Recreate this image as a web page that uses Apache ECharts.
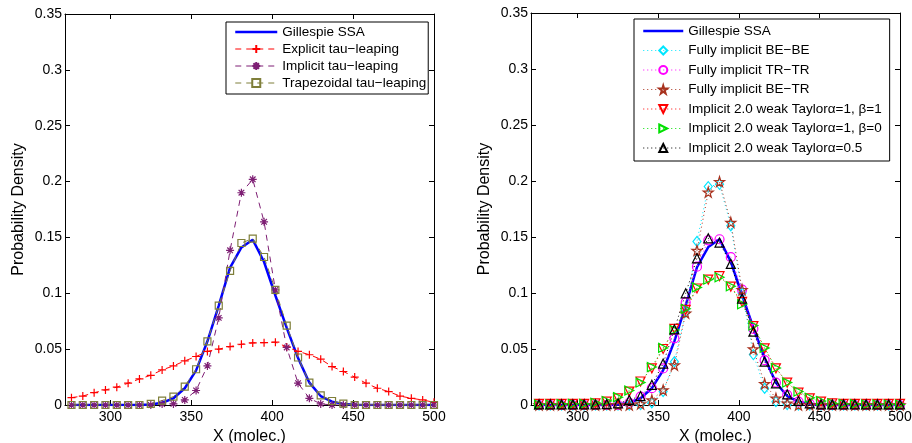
<!DOCTYPE html>
<html>
<head>
<meta charset="utf-8">
<script src="https://cdn.jsdelivr.net/npm/echarts@6/dist/echarts.min.js"></script>
<style>
  html, body { margin: 0; padding: 0; background: #fff; }
  #chart { width: 912px; height: 443px; }
</style>
</head>
<body>
<div id="chart"></div>
<script>
// x positions of the histogram bins (molecules)
const xVals = [276, 283, 290, 297, 304, 311, 318, 325, 332, 339, 346, 353, 360, 367, 374, 381, 388,
  395, 402, 409, 416, 423, 430, 437, 444, 451, 458, 465, 472, 479, 486, 493, 500]

const yTicks = [0, 0.05, 0.1, 0.15, 0.2, 0.25, 0.3, 0.35]
const xTicks = [300, 350, 400, 450, 500]

// left panel
const ssa = [0, 0, 0, 0, 0, 0, 0, 0.0005, 0.002, 0.006, 0.015, 0.031, 0.057, 0.089, 0.123, 0.141, 0.148,
  0.128, 0.098, 0.069, 0.042, 0.020, 0.008, 0.003, 0.001, 0.0003, 0, 0, 0, 0, 0, 0, 0]
const explicitTau = [0.0066, 0.008, 0.011, 0.0135, 0.016, 0.0195, 0.0233, 0.0266, 0.0314, 0.035, 0.0395, 0.0434,
  0.048, 0.050, 0.0523, 0.0544, 0.0556, 0.0558, 0.0562, 0.052, 0.048, 0.045, 0.041, 0.0344, 0.030, 0.025,
  0.0195, 0.015, 0.012, 0.008, 0.006, 0.0045, 0.0024]
const implicitTau = [0, 0, 0, 0, 0, 0, 0, 0, 0.0008, 0.001, 0.0045, 0.013, 0.035, 0.078, 0.1385, 0.19, 0.202,
  0.164, 0.103, 0.0515, 0.0195, 0.006, 0.001, 0, 0, 0, 0, 0, 0, 0, 0, 0, 0]
const trapTau = [0, 0, 0, 0, 0, 0, 0, 0.001, 0.004, 0.0075, 0.0165, 0.032, 0.057, 0.089, 0.120, 0.145, 0.149,
  0.1325, 0.103, 0.071, 0.0425, 0.020, 0.0087, 0.0036, 0.0012, 0, 0, 0, 0, 0, 0, 0, 0]

// right panel
const beBe = [0, 0, 0, 0, 0, 0, 0, 0, 0, 0.0005, 0.002, 0.012, 0.0387, 0.083, 0.146, 0.195, 0.197,
  0.16, 0.1, 0.045, 0.015, 0.003, 0.0005, 0, 0, 0, 0, 0, 0, 0, 0, 0, 0]
const trTr = [0, 0, 0, 0, 0, 0, 0, 0, 0.002, 0.0075, 0.015, 0.0327, 0.0595, 0.0917, 0.1235, 0.147, 0.148,
  0.132, 0.103, 0.068, 0.040, 0.020, 0.009, 0.003, 0.001, 0, 0, 0, 0, 0, 0, 0, 0]
const beTr = [0, 0, 0, 0, 0, 0, 0, 0, 0, 0.001, 0.0045, 0.0134, 0.0357, 0.082, 0.138, 0.19, 0.1994,
  0.163, 0.103, 0.05, 0.019, 0.006, 0.0015, 0, 0, 0, 0, 0, 0, 0, 0, 0, 0]
const taylorA1B1 = [0.001, 0.001, 0.001, 0.001, 0.001, 0.0015, 0.003, 0.006, 0.012, 0.021, 0.0327, 0.05, 0.068,
  0.085, 0.104, 0.112, 0.115, 0.1057, 0.092, 0.0705, 0.0506, 0.0327, 0.020, 0.011, 0.006, 0.003, 0.0015,
  0.001, 0.001, 0.001, 0.001, 0.001, 0.001]
const taylorA1B0 = [0.0005, 0.0005, 0.0008, 0.001, 0.001, 0.002, 0.0035, 0.007, 0.013, 0.02, 0.034, 0.051, 0.067,
  0.086, 0.105, 0.112, 0.114, 0.106, 0.09, 0.071, 0.051, 0.033, 0.02, 0.012, 0.0065, 0.0035, 0.0015,
  0.001, 0.0008, 0.0005, 0.0005, 0.0005, 0.0005]
const taylorA05 = [0.0005, 0.0005, 0.0005, 0.0005, 0.0005, 0.0005, 0.0008, 0.0015, 0.0045, 0.008, 0.018, 0.037,
  0.0675, 0.0997, 0.131, 0.1488, 0.145, 0.126, 0.095, 0.0655, 0.0387, 0.0193, 0.0095, 0.0036, 0.0015,
  0.0005, 0.0005, 0.0005, 0.0005, 0.0005, 0.0005, 0.0005, 0.0005]

const FONT = "'Liberation Sans', Arial, Helvetica, sans-serif"

// marker shapes (hollow, matlab-like)
const SYM = {
  plus: 'path://M5,0L5,10M0,5L10,5',
  aster: 'path://M5,0L5,10M0,5L10,5M1.5,1.5L8.5,8.5M1.5,8.5L8.5,1.5',
  square: 'path://M0,0L10,0L10,10L0,10Z',
  diamond: 'path://M5,0L10,6L5,12L0,6Z',
  circle: 'path://M10,5A5,5,0,1,1,0,5A5,5,0,1,1,10,5Z',
  star: 'path://M50,0L61,35L98,35L68,57L79,91L50,70L21,91L32,57L2,35L39,35Z',
  down: 'path://M0,0L10,0L5,9Z',
  right: 'path://M0,0L9,5L0,10Z',
  up: 'path://M5,0L10,9L0,9Z'
}

const DASH = [6, 5]
const DOT = [1, 3]

function pairs (ys) {
  return xVals.map((x, i) => [x, ys[i]])
}

function line (name, ys, idx, color, symbol, size, type) {
  return {
    name: name,
    type: 'line',
    xAxisIndex: idx,
    yAxisIndex: idx,
    data: pairs(ys),
    symbol: symbol ? SYM[symbol] : 'none',
    symbolSize: size,
    showSymbol: !!symbol,
    lineStyle: { color: color, width: type === 'solid' ? 2.5 : 1, type: type },
    // no marker on the ssa curve, so keep its legend symbol invisible
    itemStyle: { color: 'transparent', borderColor: symbol ? color : 'transparent', borderWidth: 1.2 },
    emphasis: { disabled: true },
    z: symbol ? 3 : 2
  }
}

function xAxes (idx, min) {
  const base = {
    gridIndex: idx,
    type: 'value',
    min: min,
    max: 500,
    splitLine: { show: false },
    axisLine: { show: true, onZero: false, lineStyle: { color: '#000', width: 1 } },
    axisTick: { show: true, inside: true, length: 5, lineStyle: { color: '#000' } }
  }
  return [
    Object.assign({}, base, {
      position: 'bottom',
      name: 'X (molec.)',
      nameLocation: 'middle',
      nameGap: 22,
      nameTextStyle: { fontSize: 16, color: '#000', fontFamily: FONT },
      axisLabel: {
        fontSize: 14, color: '#000', fontFamily: FONT, margin: 5,
        formatter: v => (xTicks.indexOf(v) >= 0 ? String(v) : '')
      }
    }),
    Object.assign({}, base, { position: 'top', axisLabel: { show: false } })
  ]
}

function yAxes (idx) {
  const base = {
    gridIndex: idx,
    type: 'value',
    min: yTicks[0],
    max: yTicks[yTicks.length - 1],
    interval: 0.05,
    splitLine: { show: false },
    axisLine: { show: true, onZero: false, lineStyle: { color: '#000', width: 1 } },
    axisTick: { show: true, inside: true, length: 5, lineStyle: { color: '#000' } }
  }
  return [
    Object.assign({}, base, {
      position: 'left',
      name: 'Probability Density',
      nameLocation: 'middle',
      nameGap: 38,
      nameTextStyle: { fontSize: 16, color: '#000', fontFamily: FONT },
      axisLabel: { fontSize: 14, color: '#000', fontFamily: FONT, margin: 3 }
    }),
    Object.assign({}, base, { position: 'right', axisLabel: { show: false } })
  ]
}

const legendBase = {
  orient: 'vertical',
  selectedMode: false,
  itemWidth: 42,
  itemHeight: 10,
  backgroundColor: '#fff',
  borderColor: '#000',
  borderWidth: 1,
  textStyle: { fontSize: 13.5, color: '#000', fontFamily: FONT }
}

function legendItems (names) {
  return names.map(n => (n === 'Gillespie SSA' ? { name: n, lineStyle: { width: 2.5 } } : { name: n, lineStyle: { width: 1 } }))
}

const xa = xAxes(0, 272).concat(xAxes(1, 271))
const ya = yAxes(0).concat(yAxes(1))
// left panel uses axes 0 (bottom/left), right panel uses 2
const series = [
  line('Gillespie SSA', ssa, 0, '#0000ff', null, 0, 'solid'),
  line('Explicit tau−leaping', explicitTau, 0, '#ff0000', 'plus', 8, DASH),
  line('Implicit tau−leaping', implicitTau, 0, '#7e1f74', 'aster', 8, DASH),
  line('Trapezoidal tau−leaping', trapTau, 0, '#7f7f3a', 'square', 7, DASH),
  line('Gillespie SSA', ssa, 2, '#0000ff', null, 0, 'solid'),
  line('Fully implicit BE−BE', beBe, 2, '#00e6ff', 'diamond', [8, 10], DOT),
  line('Fully implicit TR−TR', trTr, 2, '#ff00ff', 'circle', 9, DOT),
  line('Fully implicit BE−TR', beTr, 2, '#a8321e', 'star', 10, DOT),
  line('Implicit 2.0 weak Taylorα=1, β=1', taylorA1B1, 2, '#ff0000', 'down', 9, DOT),
  line('Implicit 2.0 weak Taylorα=1, β=0', taylorA1B0, 2, '#00e000', 'right', 9, DOT),
  line('Implicit 2.0 weak Taylorα=0.5', taylorA05, 2, '#000000', 'up', 9, DOT)
]

let myChart = echarts.init(document.getElementById('chart'))
let option = {
  animation: false,
  backgroundColor: '#fff',
  grid: [
    { left: 65, right: 478, top: 14, bottom: 38, outerBoundsMode: 'none' },
    { left: 531, right: 12, top: 13, bottom: 38, outerBoundsMode: 'none' }
  ],
  xAxis: xa,
  yAxis: ya,
  legend: [
    Object.assign({}, legendBase, {
      left: 226,
      top: 22,
      itemGap: 3,
      padding: [3, 2, 4, 8],
      data: legendItems(['Gillespie SSA', 'Explicit tau−leaping', 'Implicit tau−leaping', 'Trapezoidal tau−leaping'])
    }),
    Object.assign({}, legendBase, {
      left: 634,
      top: 19,
      itemWidth: 40,
      itemGap: 5.5,
      padding: [5, 8, 6, 8],
      data: legendItems(['Gillespie SSA', 'Fully implicit BE−BE', 'Fully implicit TR−TR', 'Fully implicit BE−TR',
        'Implicit 2.0 weak Taylorα=1, β=1', 'Implicit 2.0 weak Taylorα=1, β=0', 'Implicit 2.0 weak Taylorα=0.5'])
    })
  ],
  series: series
}
myChart.setOption(option, true)
</script>
</body>
</html>
